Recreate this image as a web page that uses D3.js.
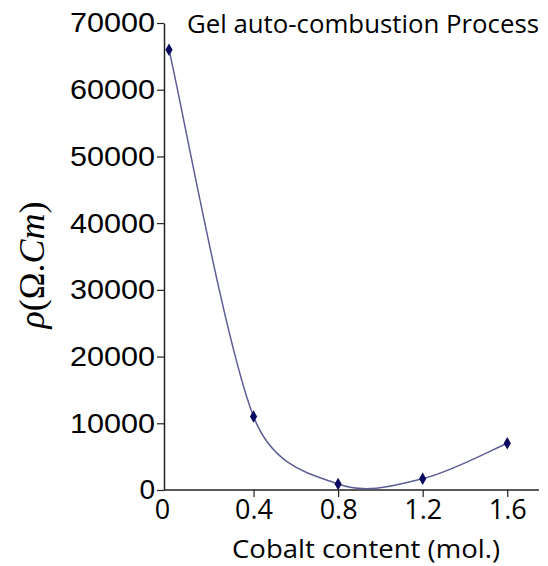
<!DOCTYPE html>
<html>
<head>
<meta charset="utf-8">
<script src="https://cdn.jsdelivr.net/npm/d3@7"></script>
<style>
  html, body { margin: 0; padding: 0; background: #fff; }
  svg { display: block; }
</style>
</head>
<body>
<svg id="chart" width="548" height="566"></svg>
<script>
// ---- data ----
const cobaltContent = [0, 0.4, 0.8, 1.2, 1.6];
const resistivity = [66000, 11000, 900, 1700, 7000];
const yTicks = [0, 10000, 20000, 30000, 40000, 50000, 60000, 70000];
const xTicks = [0, 0.4, 0.8, 1.2, 1.6];
const titleText = "Gel auto-combustion Process";
const xLabelText = "Cobalt content (mol.)";

// Spreadsheet-style smoothed line (Bezier with 1/6 tangents, clamped to half segment)
function SmoothCurve(context) { this._context = context; }
SmoothCurve.prototype = {
  areaStart() { this._line = 0; },
  areaEnd() { this._line = NaN; },
  lineStart() { this._pts = []; },
  point(x, y) { this._pts.push([+x, +y]); },
  lineEnd() {
    const p = this._pts, n = p.length, c = this._context;
    if (!n) return;
    c.moveTo(p[0][0], p[0][1]);
    const dist = (a, b) => Math.hypot(b[0] - a[0], b[1] - a[1]);
    const f = 1 / 6;
    for (let i = 0; i < n - 1; i++) {
      const P0 = p[Math.max(i - 1, 0)], P1 = p[i], P2 = p[i + 1], P3 = p[Math.min(i + 2, n - 1)];
      const d12 = dist(P1, P2), d02 = dist(P0, P2), d13 = dist(P1, P3);
      let f0 = f, f1 = f;
      if (d02 / 6 >= d12 / 2 && d02 > 0) f0 = d12 / 2 / d02;
      if (d13 / 6 >= d12 / 2 && d13 > 0) f1 = d12 / 2 / d13;
      const c1 = [P1[0] + f0 * (P2[0] - P0[0]), P1[1] + f0 * (P2[1] - P0[1])];
      const c2 = [P2[0] - f1 * (P3[0] - P1[0]), P2[1] - f1 * (P3[1] - P1[1])];
      c.bezierCurveTo(c1[0], c1[1], c2[0], c2[1], P2[0], P2[1]);
    }
  }
};
const curveSmooth = ctx => new SmoothCurve(ctx);

const svg = d3.select("#chart");
const axisX0 = 164;      // y-axis position
const x = d3.scaleLinear().domain([0, 1.75]).range([169, 169 + 1.75 * 211.4]);
const y = d3.scaleLinear().domain([0, 70000]).range([490, 23]);

// y axis
const yAxis = svg.append("g")
  .attr("transform", `translate(${axisX0},0)`)
  .call(d3.axisLeft(y).tickValues(yTicks).tickFormat(d3.format("d")).tickSize(7).tickPadding(2).tickSizeOuter(0));
yAxis.select(".domain").attr("stroke", "#222").attr("stroke-width", 1.5);
yAxis.selectAll(".tick line").attr("stroke", "#222").attr("stroke-width", 1.2);
yAxis.selectAll(".tick text")
  .attr("font-family", "'Liberation Sans', Arial, sans-serif")
  .attr("font-size", 28).attr("fill", "#000")
  .attr("textLength", d => d === 0 ? null : 85).attr("lengthAdjust", "spacingAndGlyphs");

// x axis
const xAxis = svg.append("g")
  .attr("transform", `translate(0,${y(0)})`)
  .call(d3.axisBottom(x).tickValues(xTicks).tickFormat(d => d === 0 ? "0" : d3.format(".1f")(d)).tickSize(7).tickPadding(3).tickSizeOuter(0));
xAxis.select(".domain").attr("d", `M${axisX0},0H${x.range()[1]}`).attr("stroke", "#222").attr("stroke-width", 1.5);
xAxis.selectAll(".tick line").attr("stroke", "#222").attr("stroke-width", 1.2)
  .filter(d => d === 0).remove();
xAxis.selectAll(".tick text")
  .attr("font-family", "'Open Sans', sans-serif")
  .attr("font-size", 27).attr("fill", "#000");
xAxis.selectAll(".tick").filter(d => d === 0).select("text").attr("dx", -7);

// line
const pts = cobaltContent.map((c, i) => [c, resistivity[i]]);
const line = d3.line().x(d => x(d[0])).y(d => y(d[1])).curve(curveSmooth);
svg.append("path").datum(pts)
  .attr("d", line).attr("fill", "none")
  .attr("stroke", "#5e5e96").attr("stroke-width", 1.5);

// markers
svg.append("g").selectAll("path").data(pts).join("path")
  .attr("transform", d => `translate(${x(d[0])},${y(d[1])})`)
  .attr("d", d3.symbol(d3.symbolDiamond, 45))
  .attr("fill", "#0a0a60");

// title
svg.append("text")
  .attr("x", 187).attr("y", 33)
  .attr("font-family", "'Open Sans', sans-serif")
  .attr("font-size", 26)
  .attr("textLength", 352).attr("lengthAdjust", "spacingAndGlyphs")
  .text(titleText);

// x label
svg.append("text")
  .attr("x", 232).attr("y", 558)
  .attr("font-family", "'Open Sans', sans-serif")
  .attr("font-size", 26)
  .attr("textLength", 268).attr("lengthAdjust", "spacingAndGlyphs")
  .text(xLabelText);

// y label
const yl = svg.append("text")
  .attr("transform", "translate(44,265) rotate(-90)")
  .attr("text-anchor", "middle")
  .attr("font-family", "'Liberation Serif', 'DejaVu Serif', serif")
  .attr("font-size", 36);
yl.append("tspan").attr("font-style", "italic").text("ρ");
yl.append("tspan").text("(Ω.");
yl.append("tspan").attr("font-style", "italic").text("Cm");
yl.append("tspan").text(")");
</script>
</body>
</html>
